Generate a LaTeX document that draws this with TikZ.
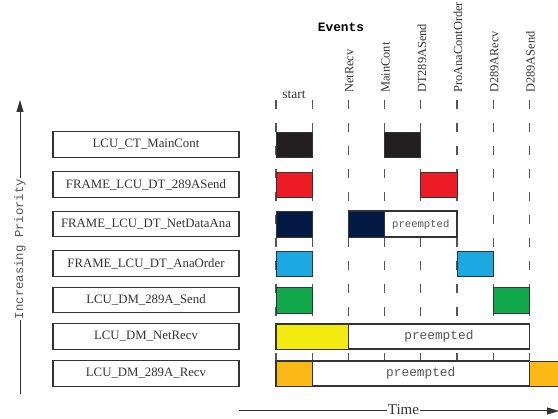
\documentclass[tikz,border=0pt]{standalone}
\usepackage{fontspec}
\setmainfont{Liberation Serif}
\setmonofont{Liberation Mono}
\usetikzlibrary{arrows.meta}

\definecolor{cBlack}{HTML}{231F20}
\definecolor{cRed}{HTML}{ED1C24}
\definecolor{cNavy}{HTML}{031A45}
\definecolor{cSky}{HTML}{1CA9E1}
\definecolor{cGreen}{HTML}{12A84C}
\definecolor{cYellow}{HTML}{F3EA10}
\definecolor{cAmber}{HTML}{FCB916}
\definecolor{cLine}{HTML}{555555}
\definecolor{cEdge}{HTML}{333333}
\definecolor{cText}{HTML}{333333}

\tikzset{
  taskbox/.style={draw=cEdge, line width=1.1pt, fill=white, minimum width=186pt,
    minimum height=25.5pt, inner sep=0pt, text=cText,
    font=\fontsize{12.8}{14}\selectfont},
  runblock/.style={draw=cEdge, line width=0.9pt},
  waitbox/.style={draw=cEdge, line width=1.1pt, fill=white},
  waittext/.style={text=cLine, font=\ttfamily\fontsize{12.8}{14}\selectfont},
  eventline/.style={draw=cLine, line width=1.1pt, dash pattern=on 9pt off 14pt},
  eventlabel/.style={rotate=90, anchor=west, inner sep=0pt, text=cText,
    font=\fontsize{12.4}{14}\selectfont},
  axisarrow/.style={draw=cText, line width=1pt, -{Triangle[length=12pt,width=7pt]}},
}

\begin{document}
\begin{tikzpicture}[x=1pt, y=-1pt]
\useasboundingbox (0,0) rectangle (558,419);

% event columns
\foreach \n/\x in {0/276, 1/312.2, 2/348.4, 3/384.6, 4/420.8, 5/457, 6/493.2, 7/529.4}{
  \coordinate (t\n) at (\x,100);
  \coordinate (b\n) at (\x,394);
  \draw[eventline] (t\n) -- (b\n);
}

% heading and event names
\node[font=\ttfamily\bfseries\fontsize{12.8}{14}\selectfont, text=black] (events) at (341,27) {Events};
\node[font=\fontsize{13.5}{15}\selectfont, text=cText, anchor=base] (start) at (294.1,99) {start};
\node[eventlabel] (eNetRecv) at (349.4,93) {NetRecv};
\node[eventlabel] (eMainCont) at (385.6,93) {MainCont};
\node[eventlabel] (eDT289ASend) at (421.8,93) {DT289ASend};
\node[eventlabel] (eProAna) at (458,93) {ProAnaContOrder};
\node[eventlabel] (eD289ARecv) at (494.2,93) {D289ARecv};
\node[eventlabel] (eD289ASend) at (530.4,93) {D289ASend};

% task names, highest priority first
\node[taskbox] (L1) at (146,144.5) {LCU\_CT\_MainCont};
\node[taskbox] (L2) at (146,184.5) {FRAME\_LCU\_DT\_289ASend};
\node[taskbox] (L3) at (146,224) {FRAME\_LCU\_DT\_NetDataAna};
\node[taskbox] (L4) at (146,263.5) {FRAME\_LCU\_DT\_AnaOrder};
\node[taskbox] (L5) at (146,300) {LCU\_DM\_289A\_Send};
\node[taskbox] (L6) at (146,336.5) {LCU\_DM\_NetRecv};
\node[taskbox] (L7) at (146,373.5) {LCU\_DM\_289A\_Recv};

% execution slots
\draw[runblock, fill=cBlack] (276,132) rectangle (312.2,157);
\draw[runblock, fill=cBlack] (384.6,132) rectangle (420.8,157);

\draw[runblock, fill=cRed] (276,172) rectangle (312.2,197);
\draw[runblock, fill=cRed] (420.8,172) rectangle (457,197);

\draw[runblock, fill=cNavy] (276,211) rectangle (312.2,237);
\draw[waitbox] (348.4,211) rectangle (457,237);
\draw[runblock, fill=cNavy] (348.4,211) rectangle (384.6,237);
\node[waittext, font=\ttfamily\fontsize{10.6}{12}\selectfont] (w3) at (420.8,224.5) {preempted};

\draw[runblock, fill=cSky] (276,251) rectangle (312.2,276);
\draw[runblock, fill=cSky] (457,251) rectangle (493.2,276);

\draw[runblock, fill=cGreen] (276,287) rectangle (312.2,313);
\draw[runblock, fill=cGreen] (493.2,287) rectangle (529.4,313);

\draw[waitbox] (276,324) rectangle (529.4,349);
\draw[runblock, fill=cYellow] (276,324) rectangle (348.4,349);
\node[waittext] (w6) at (438.9,336.5) {preempted};

\draw[waitbox] (276,361) rectangle (529.4,386);
\draw[runblock, fill=cAmber] (276,361) rectangle (312.2,386);
\draw[runblock, fill=cAmber] (529.4,361) rectangle (570,386);
\node[waittext] (w7) at (420.8,373.5) {preempted};

% priority axis
\coordinate (pBot) at (20,394);
\coordinate (pTop) at (20,100);
\draw[axisarrow] (pBot) -- (pTop);
\node[rotate=90, fill=white, inner sep=1pt, text=cLine,
  font=\ttfamily\fontsize{12.3}{14}\selectfont] (prio) at (20,249) {Increasing Priority};

% time axis
\coordinate (tLeft) at (239,411);
\coordinate (tRight) at (559,411);
\draw[axisarrow] (tLeft) -- (tRight);
\node[fill=white, inner sep=1pt, text=cText, font=\fontsize{15}{16}\selectfont] (time) at (403.5,410) {Time};
\end{tikzpicture}
\end{document}
